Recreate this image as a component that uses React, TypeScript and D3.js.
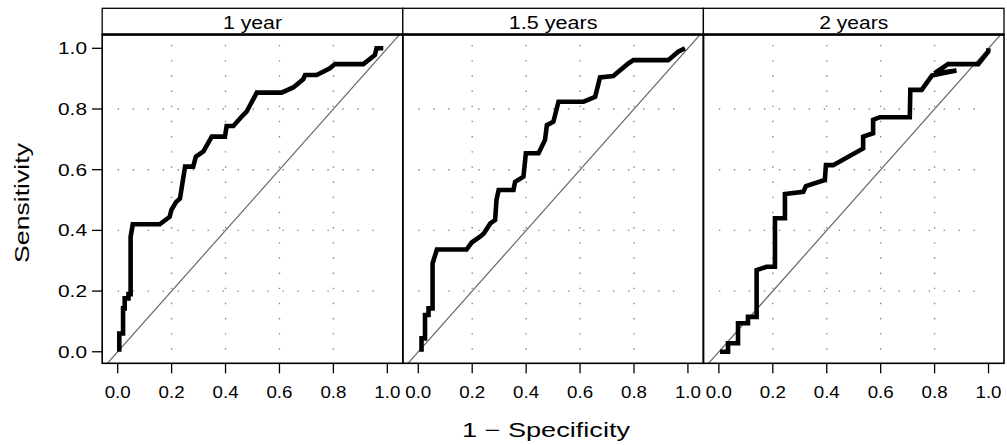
import React from "react";
import * as d3 from "d3";

// strip labels
const panels = ["1 year", "1.5 years", "2 years"];

// ROC points (1 - specificity, sensitivity)
const fpr1 = [0.006, 0.006, 0.02, 0.02, 0.026, 0.026, 0.04, 0.04, 0.048, 0.048, 0.056, 0.156, 0.193, 0.199, 0.217, 0.231, 0.25, 0.28, 0.29, 0.318, 0.349, 0.398, 0.404, 0.429, 0.46, 0.478, 0.516, 0.608, 0.651, 0.688, 0.695, 0.738, 0.787, 0.806, 0.911, 0.954, 0.96, 0.985];
const tpr1 = [0.0, 0.06, 0.06, 0.143, 0.143, 0.176, 0.176, 0.19, 0.19, 0.379, 0.42, 0.42, 0.445, 0.467, 0.494, 0.505, 0.61, 0.61, 0.643, 0.66, 0.709, 0.709, 0.744, 0.744, 0.775, 0.791, 0.854, 0.854, 0.871, 0.898, 0.912, 0.912, 0.934, 0.948, 0.948, 0.978, 1.0, 1.0];

const fpr2 = [0.012, 0.012, 0.025, 0.025, 0.038, 0.038, 0.053, 0.053, 0.069, 0.179, 0.198, 0.229, 0.243, 0.267, 0.285, 0.29, 0.298, 0.353, 0.359, 0.39, 0.399, 0.446, 0.47, 0.477, 0.501, 0.52, 0.613, 0.656, 0.674, 0.723, 0.779, 0.798, 0.927, 0.964, 0.989];
const tpr2 = [0.0, 0.044, 0.044, 0.121, 0.121, 0.143, 0.143, 0.291, 0.337, 0.337, 0.36, 0.379, 0.39, 0.423, 0.434, 0.5, 0.533, 0.533, 0.56, 0.577, 0.654, 0.654, 0.698, 0.747, 0.758, 0.824, 0.824, 0.84, 0.904, 0.909, 0.95, 0.961, 0.961, 0.989, 1.0];

const fpr3 = [0.004, 0.034, 0.034, 0.071, 0.071, 0.108, 0.108, 0.14, 0.14, 0.177, 0.208, 0.208, 0.245, 0.245, 0.313, 0.323, 0.393, 0.397, 0.424, 0.535, 0.535, 0.572, 0.572, 0.597, 0.708, 0.71, 0.752, 0.79, 0.881, 0.8, 0.85, 0.962, 0.999, 1.0];
const tpr3 = [0.0, 0.0, 0.028, 0.028, 0.094, 0.094, 0.115, 0.115, 0.269, 0.28, 0.28, 0.44, 0.44, 0.52, 0.527, 0.546, 0.566, 0.615, 0.615, 0.67, 0.709, 0.72, 0.764, 0.773, 0.773, 0.863, 0.863, 0.91, 0.927, 0.918, 0.948, 0.948, 0.989, 1.0];

const ticks = [0, 0.2, 0.4, 0.6, 0.8, 1.0];
const tickLabels = ["0.0", "0.2", "0.4", "0.6", "0.8", "1.0"];
const gridAt = [0.2, 0.4, 0.6, 0.8];

const W = 1007;
const H = 445;
const stripTop = 8.3;
const plotTop = 34.5;
const plotBottom = 363.3;
const left0 = 102.2;
const panelW = 300.6;
const font = "'Liberation Sans', Arial, sans-serif";

export default function App() {
  const y = d3.scaleLinear().domain([-0.038, 1.0455]).range([plotBottom, plotTop]);
  const series = [
    [fpr1, tpr1],
    [fpr2, tpr2],
    [fpr3, tpr3],
  ];

  return (
    <svg width={W} height={H} style={{ position: "absolute", left: 0, top: 0 }} fontFamily={font}>
      <rect width={W} height={H} fill="white" />
      {panels.map((name, i) => {
        const L = left0 + i * panelW;
        const x = d3.scaleLinear().domain([-0.0574, 1.0574]).range([L, L + panelW]);
        const [fx, ty] = series[i];
        const roc = d3
          .line<number>()
          .x((d, k) => x(fx[k]))
          .y((d) => y(d));
        return (
          <g key={name}>
            <defs>
              <clipPath id={`clip${i}`}>
                <rect x={L} y={plotTop} width={panelW} height={plotBottom - plotTop} />
              </clipPath>
            </defs>
            {/* dotted reference grid */}
            {gridAt.map((g) => (
              <line key={"v" + g} x1={x(g)} x2={x(g)} y1={y(1.011)} y2={y(-0.012)}
                stroke="#888" strokeWidth={1.4} strokeDasharray="1.4 13.77" />
            ))}
            {gridAt.map((g) => (
              <line key={"h" + g} x1={x(0)} x2={x(1.0)} y1={y(g)} y2={y(g)}
                stroke="#888" strokeWidth={1.4} strokeDasharray="1.4 13.58" />
            ))}
            <g clipPath={`url(#clip${i})`}>
              <line x1={x(-0.1)} y1={y(-0.1)} x2={x(1.1)} y2={y(1.1)} stroke="#666" strokeWidth={1.2} />
              <path d={roc(ty) || ""} fill="none" stroke="black" strokeWidth={4.6} strokeLinejoin="miter" />
            </g>
            <rect x={L} y={plotTop} width={panelW} height={plotBottom - plotTop} fill="none" stroke="black" strokeWidth={1.6} />
            <rect x={L} y={stripTop} width={panelW} height={plotTop - stripTop} fill="white" stroke="black" strokeWidth={1.3} />
            <line x1={L} x2={L + panelW} y1={plotTop} y2={plotTop} stroke="black" strokeWidth={2.6} />
            <text x={L + panelW / 2} y={28.5} textAnchor="middle" fontSize={17.5}
              textLength={name.length * 9.85} lengthAdjust="spacingAndGlyphs">{name}</text>
            {ticks.map((t, k) => (
              <g key={"xt" + t}>
                <line x1={x(t)} x2={x(t)} y1={plotBottom} y2={plotBottom + 10} stroke="black" strokeWidth={1.3} />
                <text x={x(t)} y={397.5} textAnchor="middle" fontSize={16.5}
                  textLength={26} lengthAdjust="spacingAndGlyphs">{tickLabels[k]}</text>
              </g>
            ))}
          </g>
        );
      })}
      {ticks.map((t, k) => (
        <g key={"yt" + t}>
          <line x1={92} x2={left0} y1={y(t)} y2={y(t)} stroke="black" strokeWidth={1.3} />
          <text x={87} y={y(t) + 6} textAnchor="end" fontSize={16.5}
            textLength={29} lengthAdjust="spacingAndGlyphs">{tickLabels[k]}</text>
        </g>
      ))}
      <text transform="translate(29,203) rotate(-90)" textAnchor="middle" fontSize={20}
        textLength={120} lengthAdjust="spacingAndGlyphs">Sensitivity</text>
      <text x={546} y={437} textAnchor="middle" fontSize={20}
        textLength={168} lengthAdjust="spacingAndGlyphs">1 − Specificity</text>
    </svg>
  );
}
